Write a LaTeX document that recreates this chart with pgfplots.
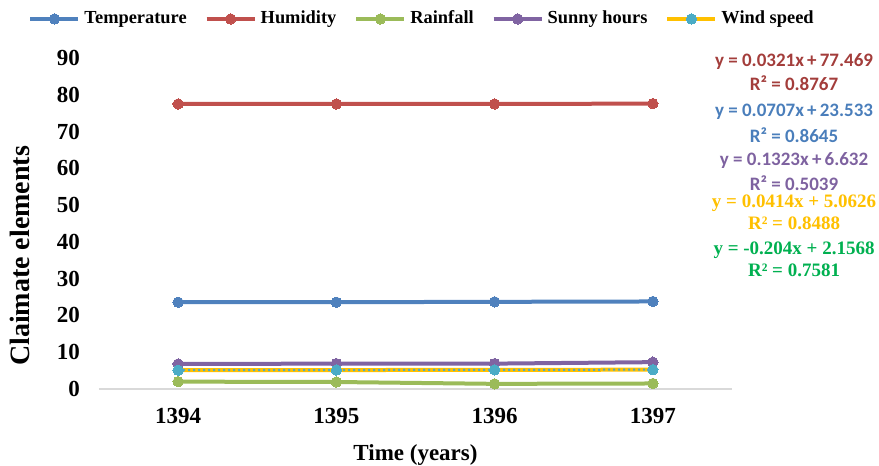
\documentclass[border=0pt]{standalone}
\usepackage{pgfplots}
\pgfplotsset{compat=1.18}
\usepackage{fontspec}
\setmainfont{Liberation Serif}
\newfontfamily\calib{Carlito}
\definecolor{cTemp}{HTML}{4F81BD}
\definecolor{cHum}{HTML}{C0504D}
\definecolor{cRain}{HTML}{9BBB59}
\definecolor{cSun}{HTML}{8064A2}
\definecolor{cWindY}{HTML}{FFC000}
\definecolor{cWindC}{HTML}{4BACC6}
\definecolor{tHum}{HTML}{A33D3B}
\definecolor{tTemp}{HTML}{4A7EBB}
\definecolor{tSun}{HTML}{7E62A0}
\definecolor{tWind}{HTML}{FFC000}
\definecolor{tRain}{HTML}{00B050}
\begin{document}
\begin{tikzpicture}
\useasboundingbox (0,0) rectangle (439.5pt,233pt);
\begin{axis}[
  at={(49.5pt,38.5pt)}, anchor=south west,
  scale only axis, width=316.5pt, height=165.5pt,
  xmin=1393.5, xmax=1397.5, ymin=0, ymax=90,
  xtick={1394,1395,1396,1397},
  xticklabels={1394,1395,1396,1397},
  ytick={0,10,...,90},
  major tick length=0pt,
  axis y line*=left,
  axis x line*=bottom,
  x axis line style={-, draw=black!15, line width=1pt},
  y axis line style={-, draw=none},
  /pgf/number format/assume math mode=true,
  ticklabel style={font=\rmfamily\bfseries\fontsize{11.5}{12}\selectfont},
  yticklabel style={xshift=-6pt},
  xticklabel style={yshift=-6pt},
  xlabel={Time (years)},
  ylabel={Claimate elements},
  xlabel style={font=\rmfamily\bfseries\fontsize{11.5}{12}\selectfont, at={(axis description cs:0.5,-0.1994)}, anchor=center},
  ylabel style={font=\rmfamily\bfseries\fontsize{14}{15}\selectfont, at={(axis description cs:-0.1248,0.402)}, anchor=center},
  clip=false,
  legend style={at={(axis description cs:0.512,1.118)}, anchor=center, draw=none, fill=none,
    legend columns=5, font=\rmfamily\bfseries\fontsize{9.2}{10}\selectfont,
    /tikz/every even column/.append style={column sep=7pt}},
  legend image code/.code={
    \draw[#1, mark repeat=2, mark phase=2] plot coordinates {(0pt,0pt) (12pt,0pt) (24pt,0pt)};},
  every axis plot/.append style={line width=2pt, mark=*, mark size=2.6pt},
]
\addplot[color=cTemp, mark options={fill=cTemp, draw=cTemp, line width=0pt}] coordinates {(1394,23.6) (1395,23.6) (1396,23.7) (1397,23.8)};
\addlegendentry{Temperature}
\addplot[color=cHum, mark options={fill=cHum, draw=cHum, line width=0pt}] coordinates {(1394,77.5) (1395,77.5) (1396,77.5) (1397,77.6)};
\addlegendentry{Humidity}
\addplot[color=cRain, mark options={fill=cRain, draw=cRain, line width=0pt}] coordinates {(1394,2.0) (1395,1.9) (1396,1.4) (1397,1.5)};
\addlegendentry{Rainfall}
\addplot[color=cSun, mark options={fill=cSun, draw=cSun, line width=0pt}] coordinates {(1394,6.8) (1395,6.9) (1396,6.9) (1397,7.3)};
\addlegendentry{Sunny hours}
\addplot[color=cWindY, mark options={fill=cWindC, draw=cWindC, line width=0pt}] coordinates {(1394,5.1) (1395,5.15) (1396,5.2) (1397,5.25)};
\addlegendentry{Wind speed}
\addplot[forget plot, color=cWindC, line width=1pt, dash pattern=on 1pt off 1.5pt, mark=none] coordinates {(1394,5.1) (1395,5.15) (1396,5.2) (1397,5.25)};

\node[font=\calib\bfseries\fontsize{9.5}{10}\selectfont, text=tHum] at (rel axis cs:1.098,0.989) {y = 0.0321x\,+\,77.469};
\node[font=\calib\bfseries\fontsize{9.5}{10}\selectfont, text=tHum] at (rel axis cs:1.098,0.924) {R² = 0.8767};
\node[font=\calib\bfseries\fontsize{9.5}{10}\selectfont, text=tTemp] at (rel axis cs:1.098,0.837) {y = 0.0707x\,+\,23.533};
\node[font=\calib\bfseries\fontsize{9.5}{10}\selectfont, text=tTemp] at (rel axis cs:1.098,0.767) {R² = 0.8645};
\node[font=\calib\bfseries\fontsize{9.5}{10}\selectfont, text=tSun] at (rel axis cs:1.098,0.689) {y = 0.1323x\,+\,6.632};
\node[font=\calib\bfseries\fontsize{9.5}{10}\selectfont, text=tSun] at (rel axis cs:1.098,0.622) {R² = 0.5039};
\node[font=\rmfamily\bfseries\fontsize{9.5}{10}\selectfont, text=tWind] at (rel axis cs:1.098,0.562) {y = 0.0414x + 5.0626};
\node[font=\rmfamily\bfseries\fontsize{9.5}{10}\selectfont, text=tWind] at (rel axis cs:1.098,0.502) {R² = 0.8488};
\node[font=\rmfamily\bfseries\fontsize{9.5}{10}\selectfont, text=tRain] at (rel axis cs:1.098,0.420) {y = -0.204x + 2.1568};
\node[font=\rmfamily\bfseries\fontsize{9.5}{10}\selectfont, text=tRain] at (rel axis cs:1.098,0.360) {R² = 0.7581};
\end{axis}
\end{tikzpicture}
\end{document}
